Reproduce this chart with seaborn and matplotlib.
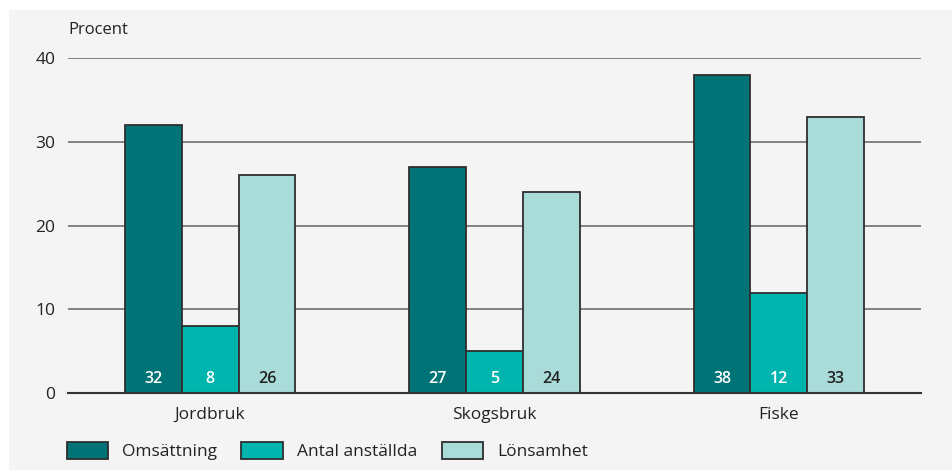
import matplotlib
matplotlib.use("Agg")
import matplotlib.pyplot as plt
import seaborn as sns
import pandas as pd
from matplotlib.patches import Rectangle, Patch

categories = ["Jordbruk", "Skogsbruk", "Fiske"]
series     = ["Omsättning", "Antal anställda", "Lönsamhet"]
omsattning = [32, 27, 38]
anstallda  = [8, 5, 12]
lonsamhet  = [26, 24, 33]
yticks     = [0, 10, 20, 30, 40]

colors      = ["#007377", "#00b5ad", "#a9dcd9"]
text_colors = ["white", "white", "#222222"]
bg          = "#f4f4f4"

df = pd.DataFrame({
    "kategori": categories * 3,
    "serie":    [s for s in series for _ in categories],
    "varde":    omsattning + anstallda + lonsamhet,
})

sns.set_theme(style="white")
plt.rcParams["font.family"] = ["Open Sans", "DejaVu Sans"]

fig = plt.figure(figsize=(9.53, 4.70), dpi=100, facecolor="white")
fig.patches.append(Rectangle((9 / 953, 0), 943 / 953, 460 / 470,
                             transform=fig.transFigure, facecolor=bg,
                             edgecolor="none", zorder=-10))
ax = fig.add_axes([68 / 953, 1 - 393 / 470, 853 / 953, 335 / 470])
ax.set_facecolor(bg)

sns.barplot(data=df, x="kategori", y="varde", hue="serie", order=categories,
            hue_order=series, palette=colors, saturation=1, width=0.6, ax=ax,
            edgecolor="#2e2e2e", linewidth=1.3, legend=False, zorder=3)

# value labels sit near the bottom of each bar
for cont, tc in zip(ax.containers, text_colors):
    for rect, v in zip(cont, cont.datavalues):
        ax.annotate(f"{v:.0f}", (rect.get_x() + rect.get_width() / 2, 0),
                    xytext=(0, 10), textcoords="offset points",
                    ha="center", va="center", color=tc, fontsize=11.5,
                    fontweight="semibold", zorder=5)

ax.set_xlim(-0.5, 2.5)
ax.set_ylim(0, 40)
ax.set_yticks(yticks)
ax.yaxis.grid(True, color="#7a7a7a", linewidth=1.3, zorder=0)
ax.set_axisbelow(True)
for s in ["top", "right", "left"]:
    ax.spines[s].set_visible(False)
ax.spines["bottom"].set_color("#333333")
ax.spines["bottom"].set_linewidth(1.5)
ax.spines["bottom"].set_zorder(4)
ax.tick_params(axis="both", length=0, labelsize=12.5, colors="#222222")
ax.tick_params(axis="y", pad=9)
ax.tick_params(axis="x", pad=10)
ax.set_xlabel("")
ax.set_ylabel("")
ax.text(0, 1.085, "Procent", transform=ax.transAxes, fontsize=12,
        color="#222222", va="center", ha="left")

handles = [Patch(facecolor=c, edgecolor="#2e2e2e", linewidth=1.3) for c in colors]
fig.legend(handles, series, loc="center left", bbox_to_anchor=(51 / 953, 1 - 451 / 470),
           ncol=3, frameon=False, fontsize=12.5, handlelength=2.4, handleheight=1.15,
           columnspacing=1.4, handletextpad=0.8, labelcolor="#222222")

fig.savefig("out.png", dpi=100, facecolor="white")
